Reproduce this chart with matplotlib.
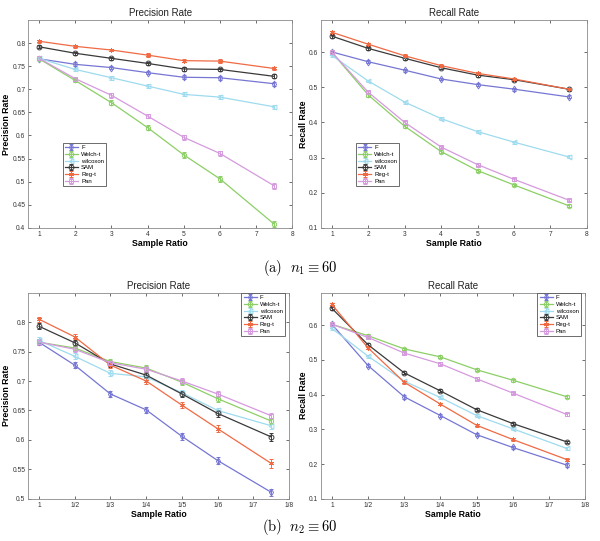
import matplotlib
matplotlib.use("Agg")
import matplotlib.pyplot as plt

methods = ["F", "Welch-t", "wilcoxon", "SAM", "Reg-t", "Pan"]
colors = ["#7676d4", "#8ccf66", "#9edbee", "#3a3a3a", "#f06a44", "#d59ade"]
markers = ["d", "h", "<", "o", (6, 2, 0), "s"]

x_top = [1, 2, 3, 4, 5, 6, 7.5]
x_bot = [1, 2, 3, 4, 5, 6, 7.5]
xticks = [1, 2, 3, 4, 5, 6, 7, 8]
xticklabels_top = ["1", "2", "3", "4", "5", "6", "7", "8"]
xticklabels_bot = ["1", "1/2", "1/3", "1/4", "1/5", "1/6", "1/7", "1/8"]

# (a) precision
prec_a = {
    "F":        [0.766, 0.754, 0.747, 0.736, 0.726, 0.725, 0.712],
    "Welch-t":  [0.766, 0.719, 0.671, 0.617, 0.558, 0.506, 0.408],
    "wilcoxon": [0.767, 0.743, 0.725, 0.707, 0.689, 0.683, 0.662],
    "SAM":      [0.792, 0.778, 0.767, 0.756, 0.744, 0.743, 0.728],
    "Reg-t":    [0.804, 0.793, 0.785, 0.774, 0.762, 0.761, 0.745],
    "Pan":      [0.767, 0.723, 0.687, 0.642, 0.596, 0.561, 0.491],
}
prec_a_err = {
    "F":        [0.003, 0.004, 0.004, 0.004, 0.004, 0.004, 0.004],
    "Welch-t":  [0.003, 0.004, 0.005, 0.005, 0.006, 0.006, 0.006],
    "wilcoxon": [0.003, 0.004, 0.004, 0.004, 0.004, 0.004, 0.004],
    "SAM":      [0.003, 0.003, 0.003, 0.004, 0.004, 0.004, 0.004],
    "Reg-t":    [0.003, 0.003, 0.003, 0.004, 0.004, 0.004, 0.004],
    "Pan":      [0.003, 0.004, 0.005, 0.005, 0.006, 0.006, 0.006],
}
# (a) recall
rec_a = {
    "F":        [0.601, 0.573, 0.549, 0.524, 0.508, 0.495, 0.473],
    "Welch-t":  [0.600, 0.478, 0.389, 0.317, 0.263, 0.222, 0.163],
    "wilcoxon": [0.591, 0.518, 0.458, 0.411, 0.374, 0.344, 0.302],
    "SAM":      [0.646, 0.611, 0.583, 0.556, 0.535, 0.522, 0.495],
    "Reg-t":    [0.657, 0.623, 0.590, 0.562, 0.540, 0.524, 0.495],
    "Pan":      [0.600, 0.486, 0.400, 0.330, 0.280, 0.238, 0.179],
}
rec_a_err = {
    "F":        [0.004, 0.004, 0.004, 0.004, 0.004, 0.004, 0.004],
    "Welch-t":  [0.004, 0.004, 0.004, 0.004, 0.004, 0.004, 0.004],
    "wilcoxon": [0.004, 0.004, 0.004, 0.004, 0.004, 0.004, 0.004],
    "SAM":      [0.004, 0.004, 0.004, 0.004, 0.004, 0.004, 0.004],
    "Reg-t":    [0.004, 0.004, 0.004, 0.004, 0.004, 0.004, 0.004],
    "Pan":      [0.004, 0.004, 0.004, 0.004, 0.004, 0.004, 0.004],
}
# (b) precision
prec_b = {
    "F":        [0.766, 0.727, 0.678, 0.651, 0.606, 0.565, 0.511],
    "Welch-t":  [0.766, 0.756, 0.733, 0.722, 0.698, 0.670, 0.632],
    "wilcoxon": [0.769, 0.742, 0.713, 0.707, 0.680, 0.650, 0.624],
    "SAM":      [0.793, 0.765, 0.729, 0.710, 0.678, 0.645, 0.605],
    "Reg-t":    [0.805, 0.775, 0.727, 0.700, 0.659, 0.619, 0.560],
    "Pan":      [0.766, 0.754, 0.731, 0.720, 0.700, 0.678, 0.641],
}
prec_b_err = {
    "F":        [0.005, 0.005, 0.005, 0.005, 0.006, 0.006, 0.006],
    "Welch-t":  [0.005, 0.005, 0.005, 0.005, 0.005, 0.005, 0.005],
    "wilcoxon": [0.005, 0.005, 0.005, 0.005, 0.005, 0.005, 0.005],
    "SAM":      [0.005, 0.005, 0.005, 0.005, 0.005, 0.006, 0.007],
    "Reg-t":    [0.004, 0.004, 0.005, 0.005, 0.005, 0.006, 0.007],
    "Pan":      [0.005, 0.005, 0.005, 0.005, 0.005, 0.005, 0.005],
}
# (b) recall
rec_b = {
    "F":        [0.603, 0.484, 0.394, 0.340, 0.285, 0.248, 0.197],
    "Welch-t":  [0.603, 0.570, 0.532, 0.509, 0.472, 0.442, 0.394],
    "wilcoxon": [0.591, 0.511, 0.439, 0.392, 0.340, 0.302, 0.245],
    "SAM":      [0.649, 0.544, 0.463, 0.411, 0.357, 0.317, 0.264],
    "Reg-t":    [0.660, 0.535, 0.436, 0.373, 0.312, 0.271, 0.213],
    "Pan":      [0.603, 0.565, 0.520, 0.489, 0.446, 0.405, 0.343],
}
rec_b_err = {
    "F":        [0.005, 0.005, 0.005, 0.005, 0.005, 0.005, 0.005],
    "Welch-t":  [0.004, 0.004, 0.004, 0.004, 0.004, 0.004, 0.004],
    "wilcoxon": [0.004, 0.004, 0.004, 0.004, 0.004, 0.004, 0.004],
    "SAM":      [0.004, 0.004, 0.004, 0.004, 0.004, 0.004, 0.004],
    "Reg-t":    [0.004, 0.004, 0.004, 0.004, 0.004, 0.004, 0.004],
    "Pan":      [0.004, 0.004, 0.004, 0.004, 0.004, 0.004, 0.004],
}

plt.rcParams["font.family"] = ["Liberation Sans", "DejaVu Sans"]
fig = plt.figure(figsize=(6.0, 5.41), dpi=100)

panels = [
    ([0.047, 0.579, 0.440, 0.384], prec_a, prec_a_err, x_top, xticklabels_top,
     "Precision Rate", "Precision Rate", (0.4, 0.85),
     [0.4, 0.45, 0.5, 0.55, 0.6, 0.65, 0.7, 0.75, 0.8], "lowleft"),
    ([0.535, 0.579, 0.443, 0.384], rec_a, rec_a_err, x_top, xticklabels_top,
     "Recall Rate", "Recall Rate", (0.1, 0.692),
     [0.1, 0.2, 0.3, 0.4, 0.5, 0.6], "lowleft"),
    ([0.047, 0.078, 0.435, 0.381], prec_b, prec_b_err, x_bot, xticklabels_bot,
     "Precision Rate", "Precision Rate", (0.5, 0.85),
     [0.5, 0.55, 0.6, 0.65, 0.7, 0.75, 0.8], "upper right"),
    ([0.535, 0.078, 0.440, 0.381], rec_b, rec_b_err, x_bot, xticklabels_bot,
     "Recall Rate", "Recall Rate", (0.1, 0.694),
     [0.1, 0.2, 0.3, 0.4, 0.5, 0.6], "upper right"),
]

for rect, data, err, xs, xtl, title, ylabel, ylim, yticks, loc in panels:
    ax = fig.add_axes(rect)
    for m, c, mk in zip(methods, colors, markers):
        ax.errorbar(xs, data[m], yerr=err[m], color=c, marker=mk, markersize=3.5,
                    markerfacecolor="none", markeredgecolor=c, markeredgewidth=0.7,
                    linewidth=0.9, elinewidth=0.7, capsize=1.6, capthick=0.7,
                    label=m)
    ax.set_xlim(0.7, 8)
    ax.set_ylim(*ylim)
    ax.set_xticks(xticks)
    ax.set_xticklabels(xtl)
    ax.set_yticks(yticks)
    ax.set_yticklabels([("%g" % v) for v in yticks])
    ax.tick_params(labelsize=4.8, length=2, width=0.5, direction="in",
                   colors="#333333", pad=2)
    ax.tick_params(axis="both", which="both", top=True, right=True)
    for s in ax.spines.values():
        s.set_linewidth(0.6)
        s.set_color("#8a8a8a")
    ax.set_title(title, fontsize=7, pad=3, color="#222222")
    ax.set_xlabel("Sample Ratio", fontsize=6.3, fontweight="bold", labelpad=1)
    ax.set_ylabel(ylabel, fontsize=6.3, fontweight="bold", labelpad=1)
    if loc == "lowleft":
        leg = ax.legend(loc="lower left", bbox_to_anchor=(0.13, 0.2),
                        fontsize=4.3, handlelength=2.2, handletextpad=0.5,
                        borderpad=0.4, labelspacing=0.25, fancybox=False,
                        framealpha=1, borderaxespad=0)
    else:
        leg = ax.legend(loc="upper right", bbox_to_anchor=(0.985, 1.0),
                        fontsize=4.3, handlelength=2.2, handletextpad=0.5,
                        borderpad=0.4, labelspacing=0.25, fancybox=False,
                        framealpha=1, borderaxespad=0)
    leg.get_frame().set_linewidth(0.6)
    leg.get_frame().set_edgecolor("#555555")

cap_kw = dict(ha="center", va="center", fontsize=10.5, math_fontfamily="cm")
fig.text(0.5, 1 - 268 / 541, r"$\mathrm{(a)}\ \ n_1 \equiv 60$", **cap_kw)
fig.text(0.5, 1 - 527 / 541, r"$\mathrm{(b)}\ \ n_2 \equiv 60$", **cap_kw)

fig.savefig("out.png", dpi=100)
